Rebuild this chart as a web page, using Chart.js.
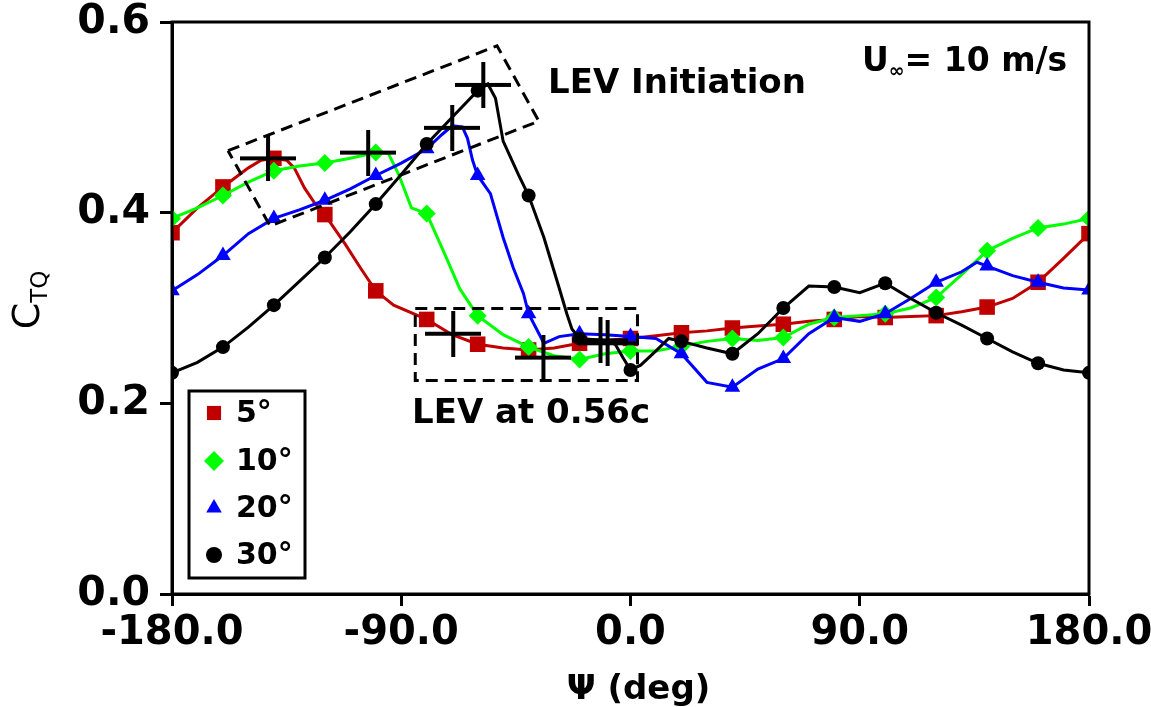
<!DOCTYPE html>
<html><head><meta charset="utf-8">
<script src="https://cdn.jsdelivr.net/npm/chart.js@4.4.0/dist/chart.umd.min.js"></script>
<style>html,body{margin:0;padding:0;background:#fff}#wrap{width:1151px;height:707px}</style>
</head><body><div id="wrap"><canvas id="c" width="1151" height="707"></canvas></div>
<script>
const seriesLabels = ['5°','10°','20°','30°'];
const seriesColors = ['#C00000','#00FF00','#0000FF','#000000'];
const seriesStyles = ['rect','rectRot','triangle','circle'];

const psi5 = [-180,-170,-160,-150,-145,-140,-135,-132,-128,-124,-120,-112,-106,-100,-93,-80,-70,-60,-50,-40,-30,-20,-10,0,10,20,30,40,50,60,70,80,90,100,110,120,130,140,150,160,170,180];
const ctq5 = [0.379,0.405,0.427,0.447,0.455,0.457,0.455,0.447,0.426,0.41,0.398,0.367,0.342,0.318,0.303,0.288,0.272,0.262,0.258,0.256,0.258,0.263,0.266,0.268,0.271,0.274,0.276,0.279,0.281,0.283,0.286,0.288,0.291,0.29,0.291,0.292,0.296,0.301,0.31,0.327,0.352,0.378];

const psi10 = [-180,-170,-160,-150,-140,-130,-120,-110,-100,-95,-91,-86,-80,-73,-67,-60,-50,-40,-30,-20,-10,0,10,20,30,40,50,60,70,80,90,100,110,120,130,140,150,160,170,180];
const ctq10 = [0.394,0.405,0.418,0.432,0.444,0.449,0.452,0.457,0.463,0.462,0.44,0.405,0.399,0.357,0.32,0.292,0.272,0.259,0.25,0.246,0.252,0.255,0.255,0.26,0.265,0.268,0.266,0.269,0.283,0.29,0.292,0.294,0.3,0.311,0.335,0.36,0.373,0.384,0.388,0.394];

const psi20 = [-180,-170,-160,-150,-140,-130,-120,-110,-100,-90,-80,-74,-70,-66,-64,-62,-60,-55,-50,-46,-42,-40,-34,-28,-20,-10,0,10,20,30,40,50,60,70,80,90,100,110,120,130,136,140,150,160,170,180];
const ctq20 = [0.318,0.335,0.355,0.378,0.394,0.403,0.413,0.425,0.439,0.452,0.467,0.482,0.491,0.49,0.478,0.455,0.439,0.42,0.374,0.342,0.315,0.294,0.263,0.27,0.273,0.272,0.27,0.268,0.252,0.222,0.217,0.236,0.247,0.273,0.29,0.286,0.294,0.31,0.327,0.338,0.348,0.344,0.334,0.327,0.321,0.319];

const psi30 = [-180,-170,-160,-150,-140,-130,-120,-110,-100,-90,-80,-70,-60,-56,-53,-50,-44,-40,-34,-28,-25,-23,-20,-10,-6,-3,0,4,10,15,20,30,40,50,60,70,80,90,100,110,120,130,140,150,160,170,180];
const ctq30 = [0.232,0.243,0.259,0.28,0.303,0.328,0.353,0.38,0.409,0.44,0.472,0.5,0.528,0.535,0.52,0.475,0.44,0.418,0.374,0.321,0.294,0.278,0.268,0.266,0.262,0.248,0.235,0.24,0.255,0.268,0.265,0.258,0.252,0.273,0.3,0.323,0.322,0.316,0.326,0.31,0.295,0.282,0.268,0.254,0.242,0.235,0.232];

// LEV markers (crosses)
const levPsi = [-142.3,-103,-70,-57.8,-69.6,-34.2,-11.8,-9];
const levCtq = [0.457,0.463,0.489,0.534,0.273,0.248,0.266,0.263];

// dashed annotation boxes
const box1Psi = [-158,-52.4,-36,-141.5,-158];
const box1Ctq = [0.465,0.575,0.496,0.386,0.465];
const box2Psi = [-84.5,2.75,2.75,-84.5,-84.5];
const box2Ctq = [0.2995,0.2995,0.224,0.224,0.2995];

const xTicks = [-180,-90,0,90,180];
const yTicks = [0,0.2,0.4,0.6];

const FONT = "'DejaVu Sans', sans-serif";
const pts = (xs, ys) => xs.map((x, i) => ({x, y: ys[i]}));
const markerRadius = [11, 9, 9, 7];

function crossImg(w, h, lw) {
  const c = document.createElement('canvas');
  c.width = w; c.height = h;
  const g = c.getContext('2d');
  g.strokeStyle = '#000'; g.lineWidth = lw;
  g.beginPath();
  g.moveTo(0, h / 2); g.lineTo(w, h / 2);
  g.moveTo(w / 2, 0); g.lineTo(w / 2, h);
  g.stroke();
  return c;
}
const cross = crossImg(56, 46, 4);

const seriesX = [psi5, psi10, psi20, psi30];
const seriesY = [ctq5, ctq10, ctq20, ctq30];

const datasets = seriesLabels.map((lab, i) => ({
  label: lab,
  data: pts(seriesX[i], seriesY[i]),
  showLine: true,
  borderColor: seriesColors[i],
  backgroundColor: seriesColors[i],
  borderWidth: 3,
  pointStyle: seriesStyles[i],
  pointRadius: ctx => (ctx.raw && Math.abs(ctx.raw.x % 20) < 1e-9 ? markerRadius[i] : 0),
  pointBorderWidth: 0,
  tension: 0,
  order: 5 - i
}));
datasets.push({
  label: 'LEV', data: pts(levPsi, levCtq), showLine: false,
  pointStyle: cross, pointRadius: 5, order: 0
});
datasets.push({
  label: 'box1', data: pts(box1Psi, box1Ctq), showLine: true, borderColor: '#000',
  borderWidth: 3, borderDash: [12, 7], pointRadius: 0, order: 1
});
datasets.push({
  label: 'box2', data: pts(box2Psi, box2Ctq), showLine: true, borderColor: '#000',
  borderWidth: 3, borderDash: [12, 7], pointRadius: 0, order: 1
});

const extras = {
  id: 'extras',
  afterDraw(chart) {
    const ctx = chart.ctx, a = chart.chartArea;
    ctx.save();
    ctx.strokeStyle = '#000'; ctx.lineWidth = 3;
    ctx.strokeRect(a.left, a.top, a.right - a.left, a.bottom - a.top);
    ctx.fillStyle = '#000';
    ctx.textAlign = 'left'; ctx.textBaseline = 'alphabetic';

    // Y axis title C_TQ
    ctx.save();
    ctx.translate(39, 300); ctx.rotate(-Math.PI / 2);
    ctx.font = `38px ${FONT}`;
    const cw = ctx.measureText('C').width;
    ctx.font = `23px ${FONT}`;
    const sw = ctx.measureText('TQ').width;
    const st = -(cw + sw) / 2;
    ctx.font = `38px ${FONT}`; ctx.fillText('C', st, 0);
    ctx.font = `23px ${FONT}`; ctx.fillText('TQ', st + cw, 8);
    ctx.restore();

    // X axis title
    ctx.font = `bold 34px ${FONT}`;
    ctx.textAlign = 'center';
    ctx.fillText('\u03A8 (deg)', (a.left + a.right) / 2 + 8, 699);
    ctx.textAlign = 'left';

    // U∞ = 10 m/s
    let x = 862;
    ctx.font = `bold 33px ${FONT}`;
    ctx.fillText('U', x, 71); x += ctx.measureText('U').width;
    ctx.font = `bold 19px ${FONT}`;
    ctx.fillText('\u221E', x, 77); x += ctx.measureText('\u221E').width;
    ctx.font = `bold 33px ${FONT}`;
    ctx.fillText('= 10 m/s', x, 71);

    // annotations
    ctx.font = `bold 34px ${FONT}`;
    ctx.fillText('LEV Initiation', 548, 93);
    ctx.fillText('LEV at 0.56c', 412, 423);

    // legend
    ctx.fillStyle = '#fff';
    ctx.fillRect(189, 391, 116, 187);
    ctx.strokeStyle = '#000'; ctx.lineWidth = 3;
    ctx.strokeRect(189, 391, 116, 187);
    const ys = [413, 461, 508, 555];
    const lr = [10, 10, 9, 8];
    seriesLabels.forEach((lab, i) => {
      ctx.fillStyle = seriesColors[i];
      ctx.strokeStyle = seriesColors[i];
      Chart.helpers.drawPoint(ctx, {pointStyle: seriesStyles[i], radius: lr[i], rotation: 0, borderWidth: 0}, 214, ys[i]);
      ctx.fillStyle = '#000';
      ctx.font = `bold 30px ${FONT}`;
      ctx.textBaseline = 'middle';
      ctx.fillText(lab, 236, ys[i] + 1);
    });
    ctx.restore();
  }
};

new Chart(document.getElementById('c'), {
  type: 'scatter',
  data: { datasets },
  plugins: [extras],
  options: {
    responsive: false, animation: false, devicePixelRatio: 1,
    layout: { padding: { top: 22, right: 62, left: 0, bottom: 0 } },
    plugins: { legend: { display: false }, tooltip: { enabled: false } },
    scales: {
      x: {
        type: 'linear', min: -180, max: 180,
        afterBuildTicks: s => { s.ticks = xTicks.map(v => ({value: v})); },
        ticks: { callback: v => Number(v).toFixed(1), color: '#000', font: { family: FONT, size: 40, weight: 'bold' }, padding: 4, maxRotation: 0, autoSkip: false },
        grid: { drawOnChartArea: false, drawTicks: true, tickLength: 12, tickWidth: 3, tickColor: '#000' },
        border: { color: '#000', width: 3 },
        afterFit: s => { s.height = 113; s.paddingLeft = 0; s.paddingRight = 0; }
      },
      y: {
        type: 'linear', min: 0, max: 0.6,
        afterBuildTicks: s => { s.ticks = yTicks.map(v => ({value: v})); },
        ticks: { callback: v => Number(v).toFixed(1), color: '#000', font: { family: FONT, size: 41, weight: 'bold' }, padding: 10 },
        grid: { drawOnChartArea: false, drawTicks: true, tickLength: 12, tickWidth: 3, tickColor: '#000' },
        border: { color: '#000', width: 3 },
        afterFit: s => { s.width = 172; s.paddingTop = 0; s.paddingBottom = 0; }
      }
    }
  }
});
</script></body></html>
